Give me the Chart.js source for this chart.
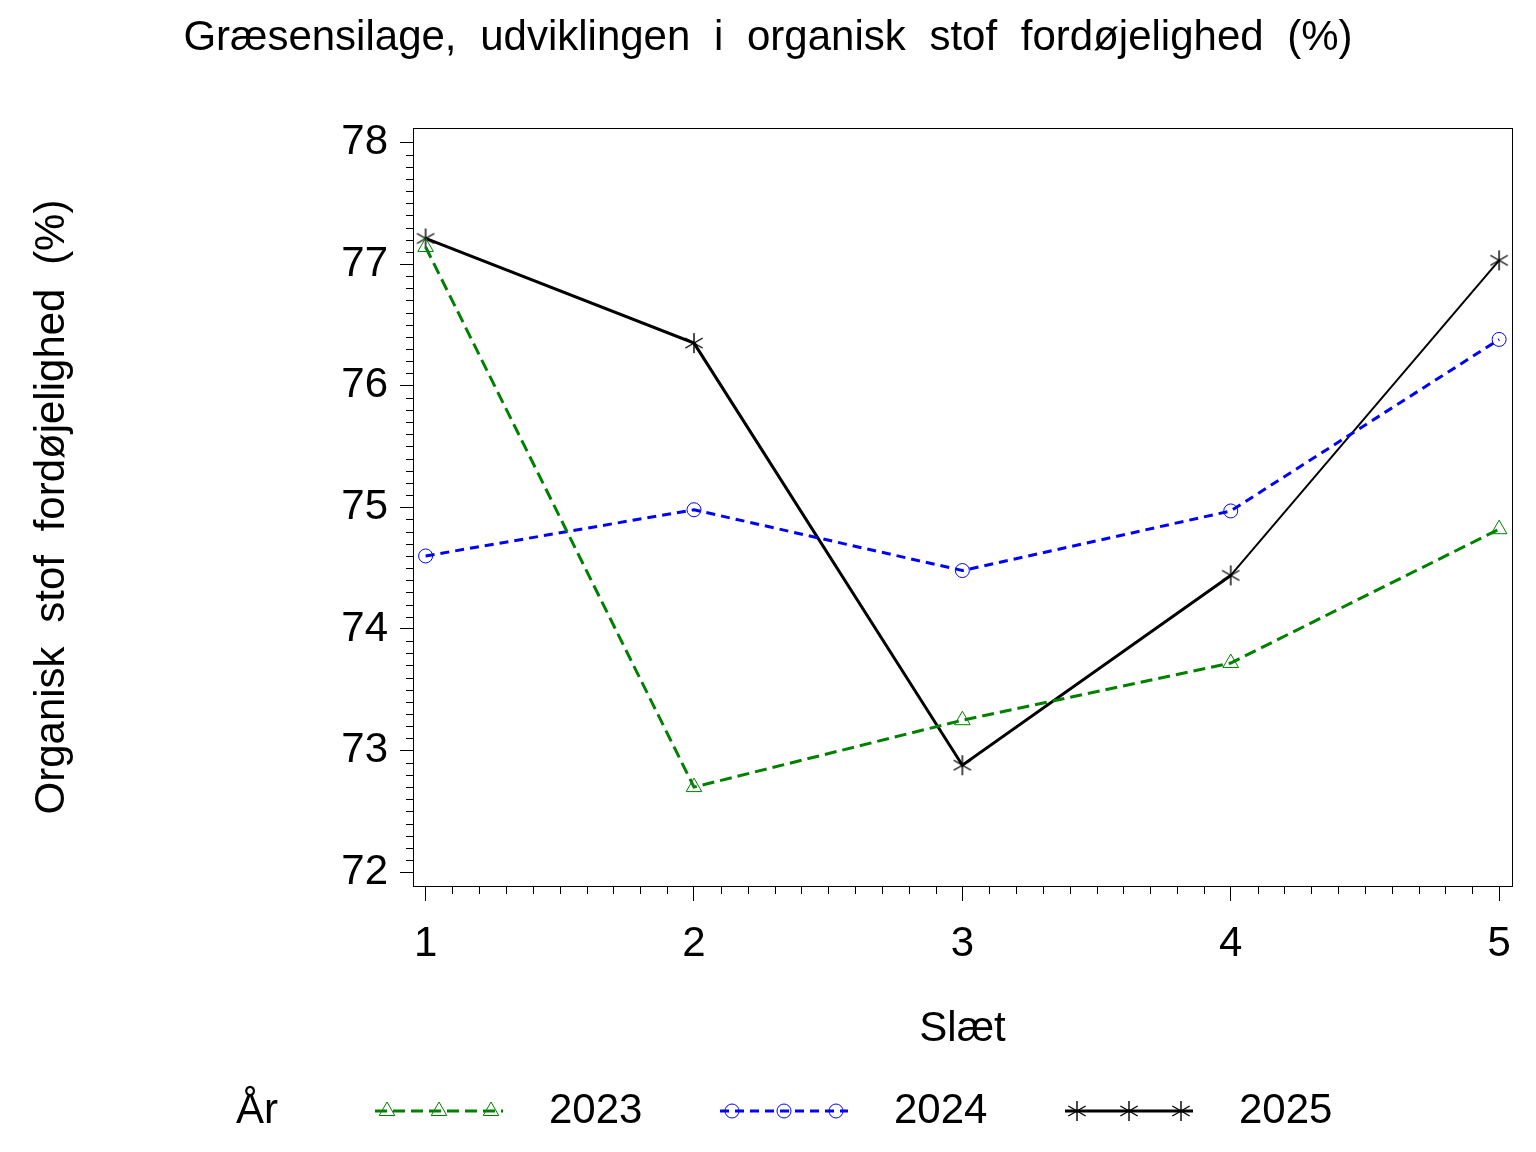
<!DOCTYPE html>
<html>
<head>
<meta charset="utf-8">
<script src="https://cdn.jsdelivr.net/npm/chart.js@4.4.1/dist/chart.umd.min.js"></script>
<style>
  html, body { margin: 0; padding: 0; background: #fff; }
</style>
</head>
<body>
<canvas id="myChart" width="1536" height="1152"></canvas>
<script>
// data
const slaet = [1, 2, 3, 4, 5];
const years = ['2023', '2024', '2025'];
const values2023 = [77.14, 72.70, 73.25, 73.72, 74.82];
const values2024 = [74.60, 74.98, 74.48, 74.97, 76.38];
const values2025 = [77.21, 76.35, 72.88, 74.44, 77.03];
const xTicks = [1, 2, 3, 4, 5];
const yTicks = [72, 73, 74, 75, 76, 77, 78];

const FONT = "'Liberation Sans', Arial, Helvetica, sans-serif";
Chart.defaults.font.family = FONT;
Chart.defaults.color = '#000';

// six-armed asterisk like the SAS marker
function makeStar() {
  const c = document.createElement('canvas');
  c.width = 24; c.height = 24;
  const g = c.getContext('2d');
  g.strokeStyle = '#000';
  g.lineWidth = 1.4;
  g.beginPath();
  for (let a = 0; a < 3; a++) {
    const ang = Math.PI / 2 + a * Math.PI / 3;
    g.moveTo(12 + 10 * Math.cos(ang), 12 - 10 * Math.sin(ang));
    g.lineTo(12 - 10 * Math.cos(ang), 12 + 10 * Math.sin(ang));
  }
  g.stroke();
  return c;
}
const starImg = makeStar();

function pts(vals) {
  return slaet.map((x, i) => ({ x: x, y: vals[i] }));
}

const seriesStyle = [
  { color: '#008000', dash: [12, 6], width: 3, style: 'triangle', radius: 9 },
  { color: '#0000ff', dash: [9, 6], width: 3, style: 'circle', radius: 7 },
  { color: '#000000', dash: [], width: 3, style: starImg, radius: 10 }
];
const allValues = [values2023, values2024, values2025];

const frameAndTicks = {
  id: 'frameAndTicks',
  beforeDraw(chart) {
    chart.ctx.wordSpacing = '12px';
  },
  afterDraw(chart) {
    const ctx = chart.ctx;
    const a = chart.chartArea;
    const xs = chart.scales.x, ys = chart.scales.y;
    ctx.save();
    ctx.strokeStyle = '#000';
    ctx.lineWidth = 1;
    ctx.strokeRect(a.left + 0.5, a.top + 0.5, a.right - a.left, a.bottom - a.top);
    ctx.beginPath();
    for (let k = 721; k < 780; k++) {
      if (k % 10 === 0) continue;
      const py = Math.round(ys.getPixelForValue(k / 10)) + 0.5;
      ctx.moveTo(a.left - 7, py);
      ctx.lineTo(a.left, py);
    }
    for (let k = 11; k < 50; k++) {
      if (k % 10 === 0) continue;
      const px = Math.round(xs.getPixelForValue(k / 10)) + 0.5;
      ctx.moveTo(px, a.bottom);
      ctx.lineTo(px, a.bottom + 8);
    }
    ctx.stroke();

    // legend
    const ly = 1111;
    ctx.font = '42px ' + FONT;
    ctx.fillStyle = '#000';
    ctx.textBaseline = 'middle';
    ctx.textAlign = 'left';
    ctx.fillText('År', 236, ly);
    chart.data.datasets.forEach((ds, i) => {
      const s = seriesStyle[i];
      const x0 = 375 + i * 345;
      ctx.strokeStyle = s.color;
      ctx.lineWidth = s.width;
      ctx.setLineDash(s.dash);
      ctx.beginPath();
      ctx.moveTo(x0, ly);
      ctx.lineTo(x0 + 128, ly);
      ctx.stroke();
      ctx.setLineDash([]);
      [12, 64, 116].forEach(off => {
        ctx.fillStyle = 'rgba(0,0,0,0)';
        ctx.strokeStyle = s.color;
        ctx.lineWidth = 1;
        Chart.helpers.drawPoint(ctx, {
          pointStyle: s.style, radius: s.radius, borderWidth: 1, rotation: 0
        }, x0 + off, ly);
      });
      ctx.fillStyle = '#000';
      ctx.fillText(ds.label, x0 + 174, ly);
    });
    ctx.restore();
  }
};

new Chart(document.getElementById('myChart'), {
  type: 'line',
  data: {
    datasets: years.map((yr, i) => ({
      label: yr,
      data: pts(allValues[i]),
      borderColor: seriesStyle[i].color,
      borderWidth: seriesStyle[i].width,
      borderDash: seriesStyle[i].dash,
      segment: i === 2 ? { borderWidth: c => (c.p0DataIndex === 3 ? 2 : undefined) } : undefined,
      pointStyle: seriesStyle[i].style,
      pointRadius: seriesStyle[i].radius,
      pointHoverRadius: seriesStyle[i].radius,
      pointBorderColor: seriesStyle[i].color,
      pointBackgroundColor: 'rgba(0,0,0,0)',
      pointBorderWidth: 1,
      tension: 0,
      fill: false
    }))
  },
  options: {
    responsive: false,
    animation: false,
    layout: { padding: { left: 24, right: 24, top: 0, bottom: 0 } },
    plugins: {
      legend: { display: false },
      tooltip: { enabled: false },
      title: {
        display: true,
        text: 'Græsensilage, udviklingen i organisk stof fordøjelighed (%)',
        font: { size: 42, weight: 'normal' },
        color: '#000',
        padding: { top: 13, bottom: 64.6 }
      }
    },
    scales: {
      x: {
        type: 'linear',
        min: 0.953,
        max: 5.048,
        afterBuildTicks: s => { s.ticks = xTicks.map(v => ({ value: v })); },
        afterFit: s => { s.height = 266; },
        ticks: { font: { size: 42 }, color: '#000', padding: 18, maxRotation: 0 },
        grid: { drawOnChartArea: false, color: '#000', tickLength: 15, tickColor: '#000' },
        border: { display: true, color: '#000', width: 1 },
        title: {
          display: true, text: 'Slæt', font: { size: 42 }, color: '#000',
          padding: { top: 0, bottom: 97 }
        }
      },
      y: {
        type: 'linear',
        min: 71.887,
        max: 78.118,
        afterBuildTicks: s => { s.ticks = yTicks.map(v => ({ value: v })); },
        afterFit: s => { s.width = 389; },
        ticks: { font: { size: 42 }, color: '#000', padding: 12 },
        grid: { drawOnChartArea: false, color: '#000', tickLength: 13, tickColor: '#000' },
        border: { display: true, color: '#000', width: 1 },
        title: {
          display: true, text: 'Organisk stof fordøjelighed (%)', font: { size: 42 }, color: '#000',
          padding: { top: 3, bottom: 0 }
        }
      }
    }
  },
  plugins: [frameAndTicks]
});
</script>
</body>
</html>
